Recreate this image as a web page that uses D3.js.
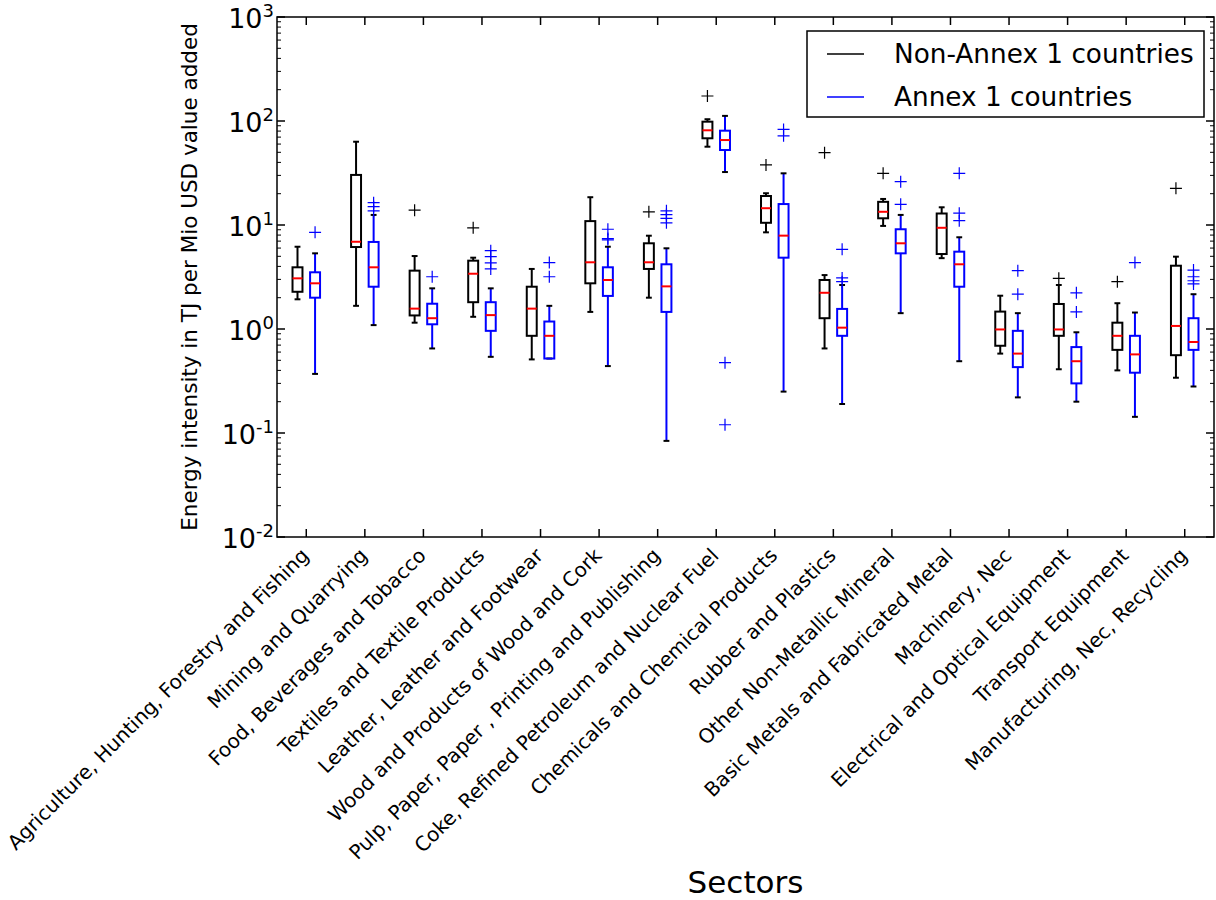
<!DOCTYPE html>
<html>
<head>
<meta charset="utf-8">
<script src="https://cdn.jsdelivr.net/npm/d3@7"></script>
<style>
  body { margin: 0; background: #fff; }
  text { font-family: "DejaVu Sans", sans-serif; fill: #000; }
</style>
</head>
<body>
<div id="chart"></div>
<script>
const width = 1216, height = 900,
  margin = { left: 277, top: 17, right: 2, bottom: 363 };

const sectors = [
  'Agriculture, Hunting, Forestry and Fishing', 'Mining and Quarrying',
  'Food, Beverages and Tobacco', 'Textiles and Textile Products',
  'Leather, Leather and Footwear', 'Wood and Products of Wood and Cork',
  'Pulp, Paper, Paper , Printing and Publishing',
  'Coke, Refined Petroleum and Nuclear Fuel', 'Chemicals and Chemical Products',
  'Rubber and Plastics', 'Other Non-Metallic Mineral',
  'Basic Metals and Fabricated Metal', 'Machinery, Nec',
  'Electrical and Optical Equipment', 'Transport Equipment',
  'Manufacturing, Nec, Recycling'
];

// Non-Annex 1 countries
const nonAnnexLow = [1.93, 1.67, 1.15, 1.31, 0.51, 1.46, 2.0, 56.6, 8.5, 0.65, 9.8, 4.8, 0.58, 0.41, 0.40, 0.34];
const nonAnnexQ1 = [2.28, 6.14, 1.35, 1.81, 0.86, 2.75, 3.78, 68.2, 10.5, 1.27, 11.6, 5.26, 0.69, 0.86, 0.63, 0.56];
const nonAnnexMed = [3.07, 6.9, 1.57, 3.4, 1.57, 4.38, 4.38, 81.4, 14.5, 2.23, 13.4, 9.4, 0.99, 0.99, 0.86, 1.07];
const nonAnnexQ3 = [3.92, 30.3, 3.64, 4.54, 2.55, 10.9, 6.67, 98.5, 19.0, 2.96, 16.7, 12.9, 1.47, 1.74, 1.15, 4.06];
const nonAnnexHigh = [6.18, 63.2, 5.03, 4.85, 3.78, 18.5, 7.89, 104, 20.2, 3.3, 17.8, 14.8, 2.09, 2.65, 1.77, 4.96];
const nonAnnexOut = [[], [], [13.9], [9.4], [], [], [13.4], [174], [37.8], [49.6], [31.4], [], [], [3.07], [2.85], [22.5]];

// Annex 1 countries
const annexLow = [0.37, 1.09, 0.65, 0.54, 0.52, 0.44, 0.084, 32.3, 0.25, 0.19, 1.42, 0.49, 0.22, 0.20, 0.143, 0.28];
const annexQ1 = [2.0, 2.55, 1.11, 0.96, 0.52, 2.08, 1.46, 52.6, 4.85, 0.86, 5.34, 2.55, 0.43, 0.30, 0.38, 0.63];
const annexMed = [2.75, 3.92, 1.27, 1.36, 0.86, 2.96, 2.57, 65.6, 7.9, 1.03, 6.67, 4.19, 0.58, 0.49, 0.57, 0.75];
const annexQ3 = [3.51, 6.87, 1.75, 1.81, 1.18, 3.92, 4.19, 80.7, 15.9, 1.56, 9.1, 5.54, 0.96, 0.67, 0.86, 1.27];
const annexHigh = [5.34, 12.5, 2.46, 2.46, 1.67, 6.18, 5.97, 112, 31.4, 2.65, 12.5, 7.62, 1.42, 0.93, 1.44, 2.16];
const annexOut = [[8.5], [16.4, 15.0, 13.7], [3.18], [5.66, 4.96, 4.33, 3.78], [4.35, 3.18],
  [9.1, 7.4, 7.2], [13.7, 12.6, 11.6, 10.5], [0.474, 0.12], [83, 72], [5.84, 3.1, 2.85],
  [26.1, 15.8], [31.4, 13.0, 11.0], [3.64, 2.16], [2.23, 1.46], [4.35], [3.69, 3.18, 2.91, 2.71]];

const yTicks = [-2, -1, 0, 1, 2, 3];

const groups = [
  { name: 'Non-Annex 1 countries', color: '#000000', offset: -0.15,
    low: nonAnnexLow, q1: nonAnnexQ1, med: nonAnnexMed, q3: nonAnnexQ3, high: nonAnnexHigh, out: nonAnnexOut },
  { name: 'Annex 1 countries', color: '#0000ff', offset: 0.15,
    low: annexLow, q1: annexQ1, med: annexMed, q3: annexQ3, high: annexHigh, out: annexOut }
];

const svg = d3.select('#chart').append('svg')
  .attr('width', width).attr('height', height);

const x = d3.scaleLinear().domain([0.5, sectors.length + 0.5])
  .range([margin.left, width - margin.right]);
const y = d3.scaleLog().domain([1e-2, 1e3])
  .range([height - margin.bottom, margin.top]);

const x0 = x.range()[0], x1 = x.range()[1], y0 = y.range()[0], y1 = y.range()[1];
const boxW = 0.17, capW = 0.1;

// minor + major ticks on the log axis, both sides, pointing in
const ticksG = svg.append('g').attr('stroke', '#000');
yTicks.forEach((e, i) => {
  ticksG.append('line').attr('x1', x0).attr('x2', x0 + 8)
    .attr('y1', y(10 ** e)).attr('y2', y(10 ** e)).attr('stroke-width', 1.5);
  ticksG.append('line').attr('x1', x1).attr('x2', x1 - 8)
    .attr('y1', y(10 ** e)).attr('y2', y(10 ** e)).attr('stroke-width', 1.5);
  if (i < yTicks.length - 1) {
    for (let m = 2; m <= 9; m++) {
      const v = m * 10 ** e;
      ticksG.append('line').attr('x1', x0).attr('x2', x0 + 4)
        .attr('y1', y(v)).attr('y2', y(v)).attr('stroke-width', 1);
      ticksG.append('line').attr('x1', x1).attr('x2', x1 - 4)
        .attr('y1', y(v)).attr('y2', y(v)).attr('stroke-width', 1);
    }
  }
  const t = svg.append('text').attr('x', x0 - 3).attr('y', y(10 ** e) + 11)
    .attr('text-anchor', 'end').style('font-size', '27px');
  t.append('tspan').text('10');
  t.append('tspan').attr('dy', -11).style('font-size', '18px').text(e);
});

sectors.forEach((s, i) => {
  const px = x(i + 1);
  ticksG.append('line').attr('x1', px).attr('x2', px)
    .attr('y1', y0).attr('y2', y0 - 8).attr('stroke-width', 1.5);
  ticksG.append('line').attr('x1', px).attr('x2', px)
    .attr('y1', y1).attr('y2', y1 + 8).attr('stroke-width', 1.5);
  svg.append('text')
    .attr('transform', `translate(${px - 7},${y0 + 9}) rotate(-45)`)
    .attr('text-anchor', 'end')
    .attr('dominant-baseline', 'hanging')
    .style('font-size', '20px')
    .text(s);
});

// boxes
groups.forEach(g => {
  const gg = svg.append('g');
  sectors.forEach((s, i) => {
    const c = i + 1 + g.offset;
    gg.append('line').attr('x1', x(c)).attr('x2', x(c))
      .attr('y1', y(g.high[i])).attr('y2', y(g.q3[i]))
      .attr('stroke', g.color).attr('stroke-width', 2);
    gg.append('line').attr('x1', x(c)).attr('x2', x(c))
      .attr('y1', y(g.q1[i])).attr('y2', y(g.low[i]))
      .attr('stroke', g.color).attr('stroke-width', 2);
    [g.high[i], g.low[i]].forEach(v => {
      gg.append('line').attr('x1', x(c - capW / 2)).attr('x2', x(c + capW / 2))
        .attr('y1', y(v)).attr('y2', y(v))
        .attr('stroke', '#000').attr('stroke-width', 2);
    });
    gg.append('rect').attr('x', x(c - boxW / 2)).attr('y', y(g.q3[i]))
      .attr('width', x(c + boxW / 2) - x(c - boxW / 2))
      .attr('height', Math.max(0.5, y(g.q1[i]) - y(g.q3[i])))
      .attr('fill', 'none').attr('stroke', g.color).attr('stroke-width', 2);
    gg.append('line').attr('x1', x(c - boxW / 2)).attr('x2', x(c + boxW / 2))
      .attr('y1', y(g.med[i])).attr('y2', y(g.med[i]))
      .attr('stroke', '#ff0000').attr('stroke-width', 2);
    g.out[i].forEach(v => {
      gg.append('path')
        .attr('d', `M${x(c) - 6},${y(v)}h12M${x(c)},${y(v) - 6}v12`)
        .attr('stroke', g.color).attr('stroke-width', 1.2);
    });
  });
});

// frame
svg.append('rect').attr('x', x0).attr('y', y1)
  .attr('width', x1 - x0).attr('height', y0 - y1)
  .attr('fill', 'none').attr('stroke', '#000').attr('stroke-width', 1.5);

// axis titles
svg.append('text')
  .attr('transform', `translate(197,${(y0 + y1) / 2}) rotate(-90)`)
  .attr('text-anchor', 'middle').style('font-size', '21.5px')
  .text('Energy intensity in TJ per Mio USD value added');
svg.append('text').attr('x', (x0 + x1) / 2).attr('y', 893)
  .attr('text-anchor', 'middle').style('font-size', '31px').text('Sectors');

// legend
const leg = svg.append('g');
leg.append('rect').attr('x', 807).attr('y', 31).attr('width', 397).attr('height', 86)
  .attr('fill', '#fff').attr('stroke', '#000').attr('stroke-width', 1.5);
groups.forEach((g, i) => {
  const ly = 54 + i * 43;
  leg.append('line').attr('x1', 827).attr('x2', 864).attr('y1', ly).attr('y2', ly)
    .attr('stroke', g.color).attr('stroke-width', 1.5);
  leg.append('text').attr('x', 894).attr('y', ly + 9)
    .style('font-size', '26.3px').text(g.name);
});
</script>
</body>
</html>
